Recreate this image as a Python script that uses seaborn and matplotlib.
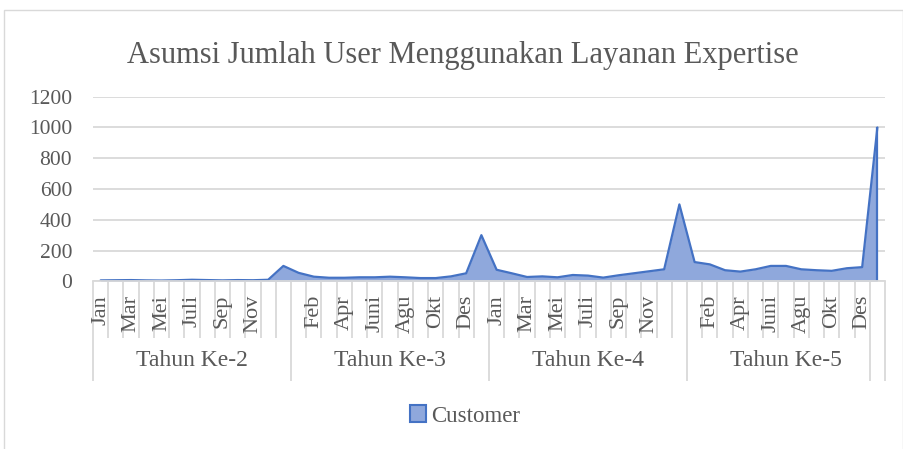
import numpy as np
import pandas as pd
import seaborn as sns
import matplotlib
matplotlib.use("Agg")
import matplotlib.pyplot as plt
from matplotlib.patches import Rectangle, Patch
import matplotlib.transforms as mtransforms

# ---------------- data ----------------
groups = ["Tahun Ke-2", "Tahun Ke-3", "Tahun Ke-4", "Tahun Ke-5"]
months = ["Jan", "Feb", "Mar", "Apr", "Mei", "Juni", "Juli", "Agu", "Sep", "Okt", "Nov", "Des", ""]
tahun2 = [6, 7, 8, 6, 5, 7, 10, 8, 6, 8, 7, 10, 100]
tahun3 = [55, 30, 23, 23, 26, 26, 30, 26, 21, 21, 32, 52, 300]
tahun4 = [75, 52, 28, 32, 26, 41, 37, 24, 39, 52, 65, 78, 500]
tahun5 = [125, 110, 72, 63, 78, 100, 100, 78, 72, 68, 85, 92, 1000]
yticks = [0, 200, 400, 600, 800, 1000, 1200]
series_name = "Customer"
title = "Asumsi Jumlah User Menggunakan Layanan Expertise"

values = tahun2 + tahun3 + tahun4 + tahun5
df = pd.DataFrame({
    "idx": np.arange(len(values)),
    "value": values,
    "group": np.repeat(groups, len(months)),
    "month": months * len(groups),
})

# ---------------- style ----------------
sns.set_style("white")
plt.rcParams["font.family"] = ["Liberation Serif", "DejaVu Serif"]
TXT = "#595959"
GRID = "#D9D9D9"
LINE = "#4472C4"
FILL = "#8FA8DC"

W, H = 904, 449
fig = plt.figure(figsize=(W / 100, H / 100), dpi=100)
fig.patch.set_facecolor("white")

# chart border
fig.patches.append(Rectangle((4.5 / W, -0.05), (903 - 4.5) / W, 1.05 - 9.5 / H,
                             transform=fig.transFigure, fill=False,
                             edgecolor=GRID, linewidth=1.0))

left, right, top, bottom = 93, 885, 96.7, 281.3
ax = fig.add_axes([left / W, 1 - bottom / H, (right - left) / W, (bottom - top) / H])
ax.set_facecolor("none")

n = len(df)
ax.fill_between(df["idx"], 0, df["value"], color=FILL, linewidth=0, zorder=1)
sns.lineplot(data=df, x="idx", y="value", ax=ax, color=LINE, linewidth=1.6,
             zorder=3, legend=False)
# vertical closing edges of the area
ax.vlines([df["idx"].iloc[0], df["idx"].iloc[-1]], 0,
          [df["value"].iloc[0], df["value"].iloc[-1]], color=LINE, linewidth=1.6, zorder=3)

ax.set_xlim(-0.5, n - 0.5)
ax.set_ylim(0, 1200)
ax.set_yticks(yticks)
ax.set_yticklabels([str(v) for v in yticks])
ax.yaxis.grid(True, color=GRID, linewidth=1.3)
ax.set_axisbelow(True)
ax.tick_params(axis="y", left=False, length=0, pad=15, labelsize=15.5, labelcolor=TXT)

for s in ["top", "right", "left"]:
    ax.spines[s].set_visible(False)
ax.spines["bottom"].set_color(GRID)
ax.spines["bottom"].set_linewidth(1.3)
ax.spines["bottom"].set_zorder(4)

# category ticks (minor) and group dividers (major)
m = len(months)
major = [g * m - 0.5 for g in range(len(groups) + 1)] + [n - 1.5]
minor = [i - 0.5 for i in range(n + 1)]
ax.set_xticks(sorted(major))
ax.set_xticks(minor, minor=True)
ax.tick_params(axis="x", which="major", bottom=True, length=72, width=1.3, color=GRID,
               labelbottom=False, direction="out")
ax.tick_params(axis="x", which="minor", bottom=True, length=41, width=1.3, color=GRID,
               labelbottom=False, direction="out")
ax.set_xlabel("")
ax.set_ylabel("")

trans = mtransforms.blended_transform_factory(ax.transData, ax.transAxes)
h_ax = bottom - top
for i, row in df.iterrows():
    if i % 2 == 0 and row["month"]:
        ax.text(row["idx"], -(295 - bottom) / h_ax, row["month"], transform=trans,
                rotation=90, ha="center", va="top", fontsize=16, color=TXT)
for g, name in enumerate(groups):
    ax.text(g * m + (m - 1) / 2, -(360 - bottom) / h_ax, name, transform=trans,
            ha="center", va="center", fontsize=17, color=TXT)

fig.text(462.5 / W, 1 - 55 / H, title, ha="center", va="center", fontsize=22, color=TXT)

handle = Patch(facecolor=FILL, edgecolor=LINE, linewidth=1.5)
fig.legend([handle], [series_name], loc="center", bbox_to_anchor=(465 / W, 1 - 416 / H),
           frameon=False, fontsize=16.5, labelcolor=TXT, handlelength=0.7,
           handleheight=0.7, handletextpad=0.2)

fig.savefig("out.png", dpi=100)
